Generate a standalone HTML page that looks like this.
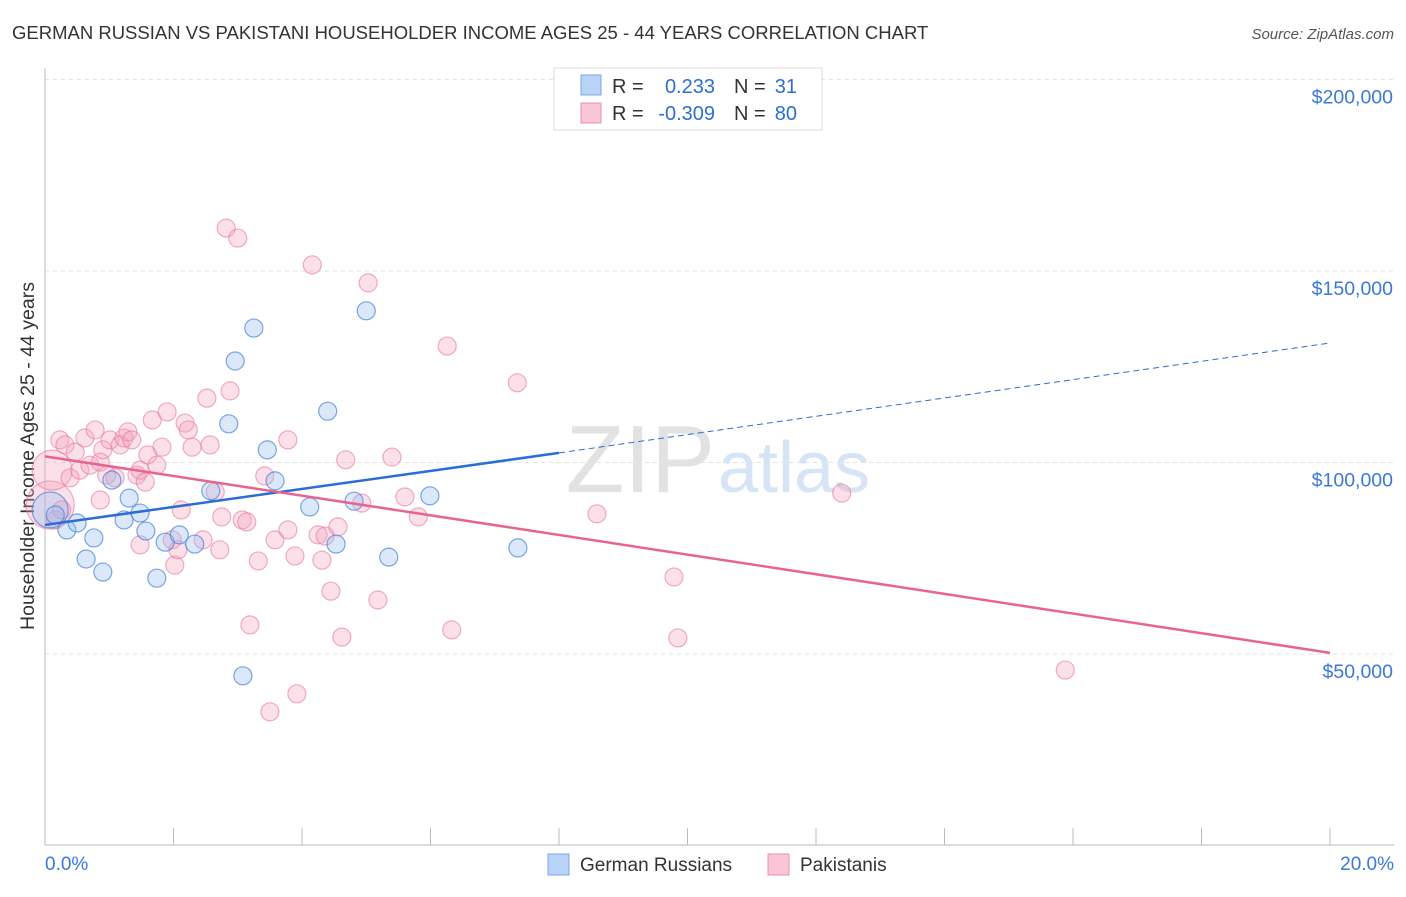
<!DOCTYPE html>
<html><head><meta charset="utf-8"><style>
body{margin:0;background:#fff;font-family:"Liberation Sans",sans-serif}
svg text{font-family:"Liberation Sans",sans-serif}
</style></head><body>
<svg id="chart" width="1406" height="892" xmlns="http://www.w3.org/2000/svg">
<text x="12" y="39" font-size="18.5" fill="#333">GERMAN RUSSIAN VS PAKISTANI HOUSEHOLDER INCOME AGES 25 - 44 YEARS CORRELATION CHART</text>
<text x="1394" y="39" font-size="15" fill="#555" text-anchor="end" font-style="italic">Source: ZipAtlas.com</text>
<text x="34" y="456" font-size="19.5" fill="#333" text-anchor="middle" transform="rotate(-90 34 456)">Householder Income Ages 25 - 44 years</text>
<g id="grid"></g>
<text x="715" y="492" font-size="96" fill="#e2e2e2" text-anchor="end" font-family="Liberation Serif">ZIP</text>
<text x="718" y="492" font-size="72" fill="#d6e4f5">atlas</text>
<g id="pts"></g>
<g id="lines"></g>
<g>
<rect x="554" y="68" width="268" height="62" fill="#fff" stroke="#ddd"/>
<rect x="581" y="75" width="20" height="20" fill="#b8d3f5" stroke="#7aa8e6"/>
<rect x="581" y="103" width="20" height="20" fill="#f9c6d6" stroke="#ec8fae"/>
<text x="612" y="93" font-size="20" fill="#333">R =</text>
<text x="715" y="93" font-size="20" fill="#2b6fd6" text-anchor="end">0.233</text>
<text x="734" y="93" font-size="20" fill="#333">N =</text>
<text x="797" y="93" font-size="20" fill="#2b6fd6" text-anchor="end">31</text>
<text x="612" y="120" font-size="20" fill="#333">R =</text>
<text x="715" y="120" font-size="20" fill="#2b6fd6" text-anchor="end">-0.309</text>
<text x="734" y="120" font-size="20" fill="#333">N =</text>
<text x="797" y="120" font-size="20" fill="#2b6fd6" text-anchor="end">80</text>
</g>
<g>
<rect x="548" y="854" width="21" height="21" fill="#b8d3f5" stroke="#7aa8e6"/>
<text x="580" y="871" font-size="19" fill="#333">German Russians</text>
<rect x="768" y="854" width="21" height="21" fill="#f9c6d6" stroke="#ec8fae"/>
<text x="800" y="871" font-size="19" fill="#333">Pakistanis</text>
</g>
</svg>
<script>
const yTicks=[50000,100000,150000,200000];
const yTickLabels=["$50,000","$100,000","$150,000","$200,000"];
const xTickLabels=["0.0%","20.0%"];
const blueX=[0.08,0.16,0.34,0.50,0.64,0.76,0.90,1.04,1.23,1.31,1.48,1.57,1.74,1.87,2.09,2.33,2.58,2.86,2.96,3.08,3.25,3.46,3.58,4.12,4.40,4.53,4.81,5.00,5.35,5.99,7.36];
const blueY=[87600,86300,82400,84200,74800,80300,71400,95400,85000,90700,86800,82100,69800,79200,81100,78700,92600,110100,126500,44300,135100,103300,95200,88400,113400,78700,89900,139600,75300,91300,77700];
const pinkX=[0.08,0.11,0.16,0.23,0.31,0.39,0.47,0.54,0.62,0.70,0.78,0.86,0.90,0.96,1.01,1.09,1.17,1.23,1.29,1.35,1.43,1.48,1.56,1.60,1.67,1.74,1.82,1.90,1.98,2.02,2.07,2.12,2.18,2.23,2.29,2.46,2.52,2.57,2.65,2.72,2.75,2.82,2.88,3.00,3.07,3.14,3.19,3.32,3.42,3.50,3.58,3.78,3.78,3.89,3.92,4.16,4.25,4.31,4.36,4.45,4.56,4.62,4.68,4.93,5.03,5.18,5.40,5.60,5.81,6.26,6.33,7.35,8.59,9.79,9.85,12.40,15.88,0.86,0.26,1.48];
const pinkY=[88900,98000,85000,105900,104600,96000,102700,98000,106400,99300,108500,100100,103300,96700,105900,96000,104600,106400,108000,105900,96700,98000,94900,102000,111100,99300,104000,113200,79800,73200,77200,87600,110300,108500,104000,79800,116800,104600,92300,77200,85800,161200,118700,158600,85000,84500,57600,74300,96500,34900,79800,82400,105900,75600,39600,151600,81100,74500,80800,66400,83200,54400,100700,89400,146900,64100,101400,91000,85800,130400,56300,120800,86600,70100,54200,92000,45800,90200,87600,78500];
const blueBig=[18,0,0,0,0,0,0,0,0,0,0,0,0,0,0,0,0,0,0,0,0,0,0,0,0,0,0,0,0,0,0];
const pinkBig={0:24,1:20};
const blueLine=[[0,83700],[8.0,102500]];
const blueDash=[[8.0,102500],[20,131200]];
const pinkLine=[[0,101600],[20,50300]];
const X=p=>45+p*64.25;
const Y=v=>654-(v-50000)*191.5/50000;
const NS="http://www.w3.org/2000/svg";
function mk(t,a,parent){const e=document.createElementNS(NS,t);for(const k in a)e.setAttribute(k,a[k]);parent.appendChild(e);return e;}
const grid=document.getElementById('grid');
mk('line',{x1:45,y1:68,x2:45,y2:845,stroke:'#bbb'},grid);
mk('line',{x1:45,y1:845,x2:1394,y2:845,stroke:'#bbb'},grid);
yTicks.forEach((v,i)=>{
 const l=mk('line',{x1:45,y1:Y(v),x2:1394,y2:Y(v),stroke:'#e2e2e2','stroke-dasharray':'4,4'},grid);
 
 
 const t=mk('text',{x:1393,y:Y(v)+24,'font-size':19.5,fill:'#3b78d8','text-anchor':'end'},grid);t.textContent=yTickLabels[i];
 
 
});
for(let i=0;i<=10;i++){const tk=mk('line',{x1:X(i*2),y1:828,x2:X(i*2),y2:845,stroke:'#bbb'},grid);
 
 }
[[0,45,'start'],[20,1394,'end']].forEach((d,i)=>{const t=mk('text',{x:d[1],y:870,'font-size':19,fill:'#3b78d8','text-anchor':d[2]},grid);t.textContent=xTickLabels[i];
 
 });
const pts=document.getElementById('pts');
pinkX.forEach((x,i)=>{const c=mk('circle',{cx:X(x),cy:Y(pinkY[i]),r:pinkBig[i]||9,fill:'rgba(244,160,188,0.33)',stroke:'rgba(232,120,160,0.6)','stroke-width':1.2},pts);
 
 });
blueX.forEach((x,i)=>{const c=mk('circle',{cx:X(x),cy:Y(blueY[i]),r:blueBig[i]||9,fill:'rgba(150,190,240,0.35)',stroke:'rgba(70,130,215,0.7)','stroke-width':1.2},pts);
 
 });
const lines=document.getElementById('lines');
const bl=mk('line',{x1:X(blueLine[0][0]),y1:Y(blueLine[0][1]),x2:X(blueLine[1][0]),y2:Y(blueLine[1][1]),stroke:'#2a6dd6','stroke-width':2.5},lines);


const bd=mk('line',{x1:X(blueDash[0][0]),y1:Y(blueDash[0][1]),x2:X(blueDash[1][0]),y2:Y(blueDash[1][1]),stroke:'#2a6dd6','stroke-width':1,'stroke-dasharray':'6,4'},lines);


const pl=mk('line',{x1:X(pinkLine[0][0]),y1:Y(pinkLine[0][1]),x2:X(pinkLine[1][0]),y2:Y(pinkLine[1][1]),stroke:'#e8648f','stroke-width':2.5},lines);


</script>
</body></html>
